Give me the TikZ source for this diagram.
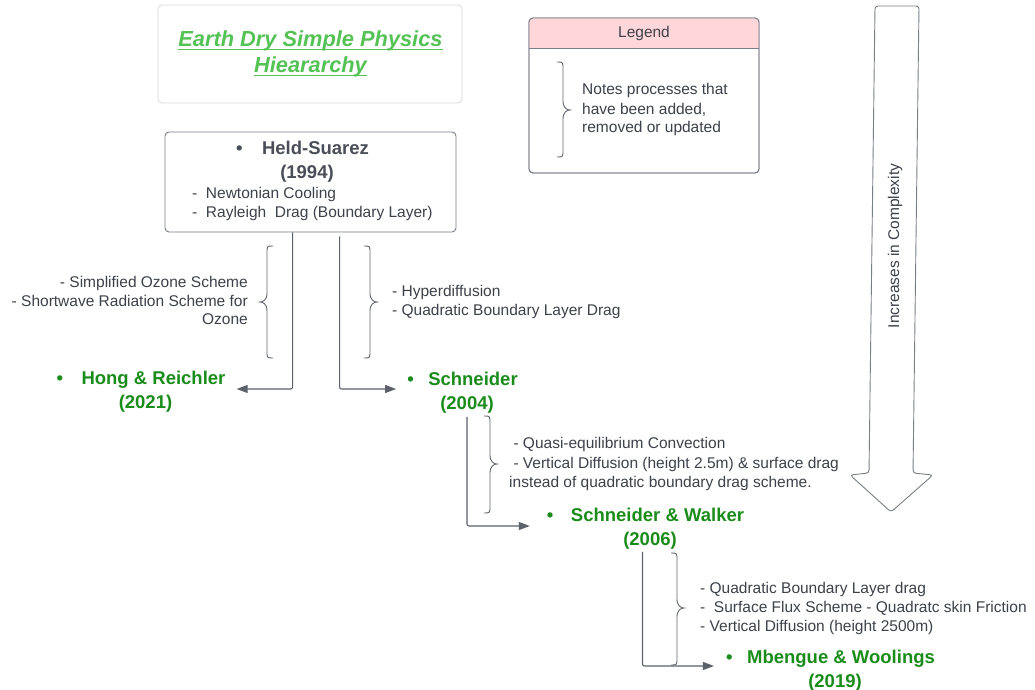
\documentclass[tikz,border=0pt]{standalone}
\usepackage{fontspec}
\setmainfont{Liberation Sans}
\usetikzlibrary{arrows.meta,calc}
\definecolor{txt}{HTML}{3D414A}
\definecolor{hsgray}{HTML}{4A4E57}
\definecolor{linegray}{HTML}{5C616B}
\definecolor{bracegray}{HTML}{62666F}
\definecolor{boxgray}{HTML}{7A7E87}
\definecolor{lightbox}{HTML}{D9D9D9}
\definecolor{hgreen}{HTML}{1A8C1A}
\definecolor{tgreen}{HTML}{55C255}
\definecolor{pinkhead}{HTML}{FFD6DA}
\newcommand\bodyfont{\fontsize{15.5}{19}\selectfont}
\newcommand\headfont{\fontsize{18.5}{24}\selectfont\bfseries}
% brace with tip to the left: straight x, top, bottom, tip y
\newcommand\mybraceL[4]{\draw[bracestyle] (#1+6,#2) .. controls (#1,#2) .. (#1,#2+7) -- (#1,#4-9) .. controls (#1,#4-2) and (#1-4,#4) .. (#1-7,#4) .. controls (#1-4,#4) and (#1,#4+2) .. (#1,#4+9) -- (#1,#3-7) .. controls (#1,#3) .. (#1+6,#3);}
% brace with tip to the right
\newcommand\mybraceR[4]{\draw[bracestyle] (#1-6,#2) .. controls (#1,#2) .. (#1,#2+7) -- (#1,#4-9) .. controls (#1,#4-2) and (#1+4,#4) .. (#1+7,#4) .. controls (#1+4,#4) and (#1,#4+2) .. (#1,#4+9) -- (#1,#3-7) .. controls (#1,#3) .. (#1-6,#3);}
\begin{document}
\begin{tikzpicture}[x=1pt,y=-1pt,
  conn/.style={draw=linegray,line width=1.1pt,-{Triangle[length=11pt,width=8pt]},rounded corners=2pt},
  bracestyle/.style={draw=bracegray,line width=0.9pt},
  body/.style={font=\bodyfont,text=txt,inner sep=0pt},
  heading/.style={font=\headfont,text=hgreen,align=center,inner sep=0pt},
  titletext/.style={font=\fontsize{21.8}{26}\selectfont\bfseries\itshape,text=tgreen,inner sep=0pt}]
\useasboundingbox (0,0) rectangle (1035,690);
\fill[white] (0,0) rectangle (1035,690);

% title box
\node[draw=lightbox,line width=0.8pt,rounded corners=4pt,minimum width=304pt,minimum height=98pt] (titlebox) at (310,54) {};
\node[titletext,anchor=base] (t1) at (310.5,47) {Earth Dry Simple Physics};
\node[titletext,anchor=base] (t2) at (310.5,73) {Hieararchy};
\draw[tgreen,line width=1.6pt] ([yshift=-2.6pt]t1.base west) -- ([yshift=-2.6pt]t1.base east);
\draw[tgreen,line width=1.6pt] ([yshift=-2.6pt]t2.base west) -- ([yshift=-2.6pt]t2.base east);

% legend
\node[draw=boxgray,line width=0.9pt,rounded corners=4pt,minimum width=230pt,minimum height=155pt] (legend) at (644,95.5) {};
\begin{scope}
\clip[rounded corners=4pt] (529,18) rectangle (759,173);
\fill[pinkhead] (529,18) rectangle (759,48);
\end{scope}
\draw[boxgray,line width=0.9pt,rounded corners=4pt] (529,18) rectangle (759,173);
\draw[boxgray,line width=0.9pt] (529,48) -- (759,48);
\node[body,anchor=base] (legtitle) at (644,37.5) {Legend};
\mybraceR{563}{62}{157}{110}
\node[body,anchor=base west] (n1) at (582,95) {Notes processes that};
\node[body,anchor=base west] (n2) at (582,114) {have been added,};
\node[body,anchor=base west] (n3) at (582,132) {removed or updated};

% Held-Suarez box
\node[draw=boxgray,line width=0.9pt,rounded corners=4pt,minimum width=291pt,minimum height=100pt] (hs) at (310.5,182) {};
\node[heading,text=hsgray] (hsT) at (302.5,162) {•\hspace{19.5pt}Held-Suarez\\\hspace*{9pt}(1994)};
\node[body,anchor=base west] (hs1) at (192,198) {-\ \ Newtonian Cooling};
\node[body,anchor=base west] (hs2) at (192,217) {-\ \ Rayleigh\ \ Drag (Boundary Layer)};

% models
\node[heading] (hr) at (141,392) {•\hspace{18.5pt}Hong \& Reichler\\\hspace*{9pt}(2021)};
\node[heading] (sch) at (462.5,393) {•\hspace{14.5pt}Schneider\\\hspace*{9pt}(2004)};
\node[heading] (sw) at (645.5,529) {•\hspace{17.5pt}Schneider \& Walker\\\hspace*{9pt}(2006)};
\node[heading] (mw) at (830.5,671) {•\hspace{14.5pt}Mbengue \& Woolings\\\hspace*{9pt}(2019)};

% connectors
\draw[conn] ($(hs.south west)+(128,0)$) |- ([xshift=11pt,yshift=3pt]hr.east);
\draw[conn] ($(hs.south west)+(175,4)$) |- ([xshift=-11pt,yshift=4pt]sch.west);
\draw[conn] ($(sch.south)+(4.5,3)$) |- ([xshift=-17pt,yshift=3pt]sw.west);
\draw[conn] ($(sw.south)+(-3,2)$) |- ([xshift=-12pt,yshift=5pt]mw.west);

% left group
\mybraceL{267}{246}{358}{302}
\node[body,anchor=base east] (l1) at (248,287) {- Simplified Ozone Scheme};
\node[body,anchor=base east] (l2) at (248,306) {- Shortwave Radiation Scheme for};
\node[body,anchor=base east] (l3) at (248,324) {Ozone};

% right group
\mybraceR{370}{246}{358}{302}
\node[body,anchor=base west] (r1) at (392,296) {- Hyperdiffusion};
\node[body,anchor=base west] (r2) at (392,315) {- Quadratic Boundary Layer Drag};

% Schneider group
\mybraceR{490}{416}{513}{464}
\node[body,anchor=base west] (s1) at (509,448) {\hspace*{4.3pt}- Quasi-equilibrium Convection};
\node[body,anchor=base west] (s2) at (509,468) {\hspace*{4.3pt}- Vertical Diffusion (height 2.5m) \& surface drag};
\node[body,anchor=base west] (s3) at (509,487) {instead of quadratic boundary drag scheme.};

% S&W group
\mybraceR{677}{553}{665}{608}
\node[body,anchor=base west] (m1) at (700,593) {- Quadratic Boundary Layer drag};
\node[body,anchor=base west] (m2) at (700,612) {-\ \ Surface Flux Scheme - Quadratc skin Friction};
\node[body,anchor=base west] (m3) at (700,631) {- Vertical Diffusion (height 2500m)};

% big arrow
\draw[draw=boxgray,line width=0.9pt,rounded corners=3pt,fill=white] (875,6) -- (919,6) -- (913,473) -- (933,475) -- (891,512) -- (850,475) -- (869,473) -- cycle;
\node[body,rotate=90] (cx) at (895,246) {Increases in Complexity};
\end{tikzpicture}
\end{document}
